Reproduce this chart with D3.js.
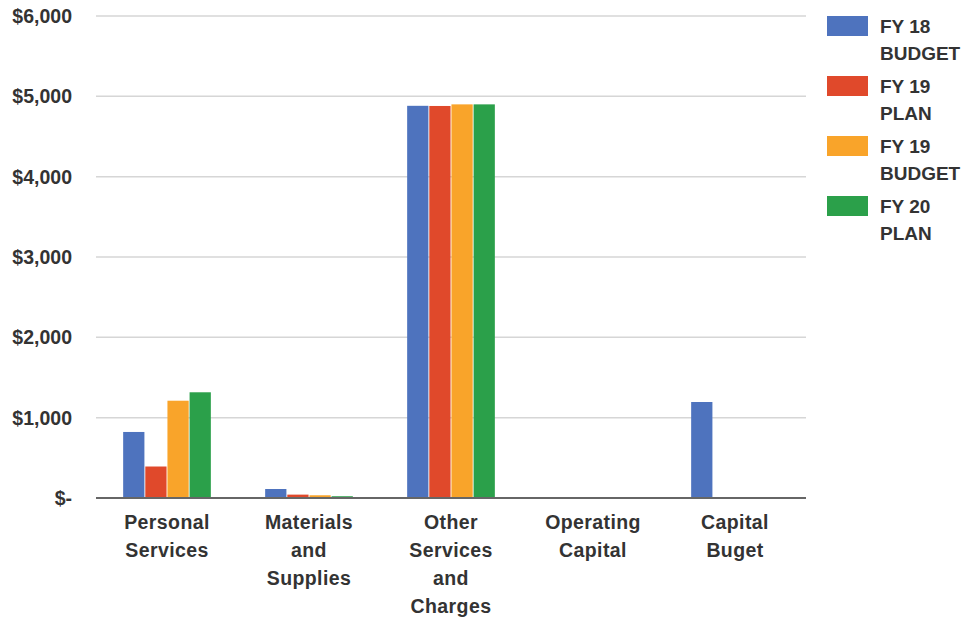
<!DOCTYPE html>
<html><head><meta charset="utf-8">
<script src="https://cdn.jsdelivr.net/npm/d3@7"></script>
<style>body{margin:0;background:#fff}svg{display:block}text{font-family:"Liberation Sans",Arial,sans-serif;font-weight:bold;fill:#333}</style>
</head><body><svg id="c" width="967" height="617"></svg>
<script>
const categories = [["Personal","Services"],["Materials","and","Supplies"],["Other","Services","and","Charges"],["Operating","Capital"],["Capital","Buget"]];
const series = [["FY 18","BUDGET"],["FY 19","PLAN"],["FY 19","BUDGET"],["FY 20","PLAN"]];
const colors = ["#4e73be","#e0492b","#f9a42a","#2ba04a"];
const fy18Budget = [822, 112, 4882, 0, 1195];
const fy19Plan   = [392, 42, 4880, 0, 0];
const fy19Budget = [1211, 34, 4900, 10, 0];
const fy20Plan   = [1316, 22, 4900, 10, 0];
const values = [fy18Budget, fy19Plan, fy19Budget, fy20Plan];
const yTicks = [0,1000,2000,3000,4000,5000,6000];

const svg = d3.select("#c");
const L=96, R=806, T=16, B=498;
const x = d3.scaleBand().domain(d3.range(categories.length)).range([L,R]).paddingInner(0.37).paddingOuter(0.185);
const xs = d3.scaleBand().domain(d3.range(series.length)).range([0,x.bandwidth()]).padding(0.04);
const y = d3.scaleLinear().domain([0,6000]).range([B,T]);

// gridlines
svg.append("g").selectAll("line").data(yTicks.filter(d=>d>0)).join("line")
  .attr("x1",L).attr("x2",R).attr("y1",d=>y(d)).attr("y2",d=>y(d))
  .attr("stroke","#d6d6d6").attr("stroke-width",1.5);

// y labels
const fmt = d => d===0 ? "$-" : "$"+d3.format(",")(d);
svg.append("g").selectAll("text").data(yTicks).join("text")
  .attr("x",72).attr("y",d=>y(d)+7).attr("text-anchor","end")
  .style("font-size","19.5px").text(fmt);

// bars
series.forEach((s,si)=>{
  svg.append("g").selectAll("rect").data(values[si]).join("rect")
    .attr("x",(d,i)=>x(i)+xs(si)).attr("width",xs.bandwidth())
    .attr("y",d=>y(d)).attr("height",d=>B-y(d))
    .attr("fill",colors[si]);
});

// baseline
svg.append("line").attr("x1",L).attr("x2",R).attr("y1",B).attr("y2",B).attr("stroke","#666").attr("stroke-width",2);

// x labels
categories.forEach((lines,i)=>{
  const t = svg.append("text").attr("text-anchor","middle").style("font-size","19.5px").style("letter-spacing","0.4px");
  lines.forEach((ln,j)=>t.append("tspan").attr("x",x(i)+x.bandwidth()/2).attr("y",529+j*28).text(ln));
});

// legend
series.forEach((s,si)=>{
  const g = svg.append("g").attr("transform",`translate(827,${16+si*60})`);
  g.append("rect").attr("width",41).attr("height",20).attr("fill",colors[si]);
  const t = g.append("text").style("font-size","19px");
  s.forEach((ln,j)=>t.append("tspan").attr("x",53).attr("y",17+j*27).text(ln));
});
</script></body></html>
